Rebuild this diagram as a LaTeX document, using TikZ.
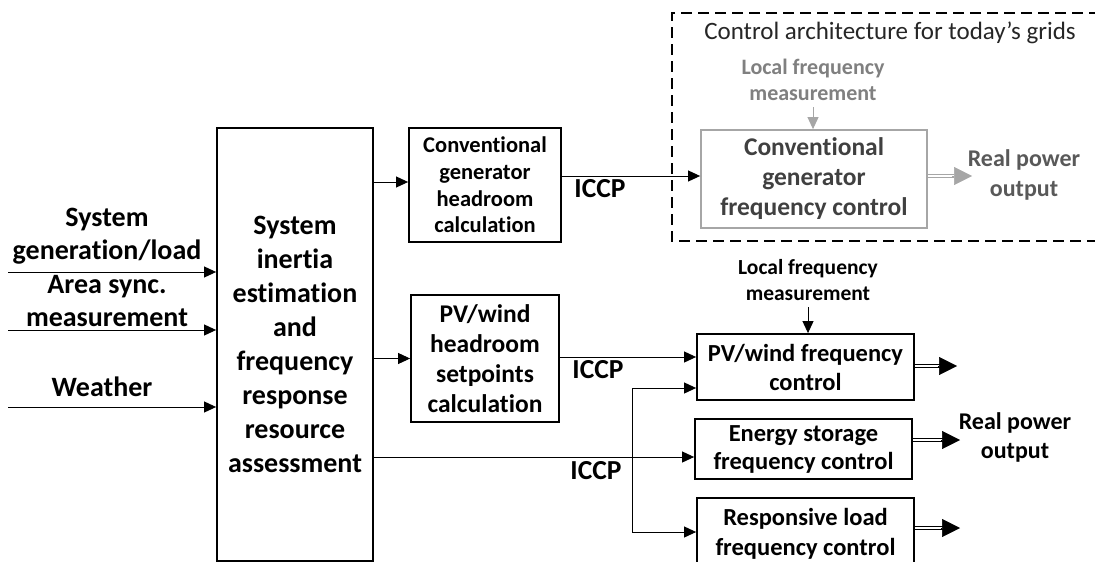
\documentclass[tikz,border=0pt]{standalone}
\usepackage{fontspec}
\setmainfont{Carlito}[Ligatures={NoCommon}]
\usetikzlibrary{arrows.meta,calc}
\definecolor{gbox}{HTML}{A6A6A6}
\definecolor{gtext}{HTML}{404040}
\definecolor{glocal}{HTML}{808080}
\definecolor{gout}{HTML}{595959}
\definecolor{ttl}{HTML}{262626}
\begin{document}
\begin{tikzpicture}[x=1pt,y=-1pt,
  fsz/.style 2 args={font=\bfseries\fontsize{#1}{#2}\selectfont},
  box/.style={draw, line width=1.8pt, align=center, inner sep=0pt},
  lbl/.style={align=center, inner sep=0pt},
  arr/.style={line width=0.9pt, -{Triangle[length=12pt,width=11pt]}},
  ln/.style={line width=0.9pt},
  dbl/.style={double, double distance=1.8pt, line width=0.9pt},
  bigtip/.style={line width=0.5pt, -{Triangle[length=18pt,width=18pt]}},
  dashbox/.style={line width=1.5pt, dash pattern=on 11pt off 6pt}]
\useasboundingbox (0,0) rectangle (1095,562);

% dashed frame
\coordinate (fr1) at (1100,13);
\coordinate (fr2) at (672,13);
\coordinate (fr3) at (672,241);
\coordinate (fr4) at (1100,241);
\draw[dashbox] (fr1) -- (fr2) -- (fr3) -- (fr4);
\node[lbl, font=\fontsize{25}{30}\selectfont, text=ttl] (title) at (890,33) {Control architecture for today’s grids};

% boxes
\node[box, fsz={28}{34}, minimum width=156pt, minimum height=433pt] (big) at (295,344.5)
  {System\\inertia\\estimation\\and\\frequency\\response\\resource\\assessment};
\node[box, fsz={22.5}{26.7}, minimum width=152pt, minimum height=114pt] (cgh) at (485,185)
  {Conventional\\generator\\headroom\\calculation};
\node[box, fsz={25.5}{30}, minimum width=148pt, minimum height=127pt] (pvh) at (485,358.5)
  {PV/wind\\headroom\\setpoints\\calculation};
\node[box, fsz={25.5}{30}, draw=gbox, text=gtext, minimum width=226pt, minimum height=98pt] (cgf) at (814,179)
  {Conventional\\generator\\frequency control};
\node[box, fsz={24.5}{29}, minimum width=217pt, minimum height=66pt] (pvf) at (805.5,367)
  {PV/wind frequency\\control};
\node[box, fsz={24.5}{28}, minimum width=217pt, minimum height=60pt] (esf) at (803.5,449)
  {Energy storage\\frequency control};
\node[box, fsz={24.5}{30}, minimum width=217pt, minimum height=72pt] (rlf) at (805.5,534)
  {Responsive load\\frequency control};

% left inputs
\node[lbl, fsz={28}{33}] (t1) at (107,236) {System\\generation/load};
\node[lbl, fsz={28}{33}] (t2) at (107,301) {Area sync.\\measurement};
\node[lbl, fsz={28}{33}] (t3) at (102,387) {Weather};
\coordinate (i1) at (8,272);
\coordinate (i2) at (8,330);
\coordinate (i3) at (8,407);
\draw[arr] (i1) -- (big.west |- i1);
\draw[arr] (i2) -- (big.west |- i2);
\draw[arr] (i3) -- (big.west |- i3);

% big to headroom boxes
\coordinate (cghin) at ([yshift=3pt]cgh.west);
\draw[arr] (big.east |- cghin) -- (cghin);
\draw[arr] (big.east |- pvh.west) -- (pvh.west);

% ICCP links
\coordinate (cgfin) at ([yshift=3pt]cgf.west);
\draw[arr] (cgh.east |- cgfin) -- (cgfin);
\node[lbl, fsz={27.5}{32}] (iccp1) at (600,189) {ICCP};

\coordinate (pvfin) at ([yshift=10pt]pvf.west);
\draw[arr] (pvh.east |- pvfin) -- (pvfin);
\node[lbl, fsz={27.5}{32}] (iccp2) at (598,370) {ICCP};

\coordinate (esfin) at ([yshift=-8pt]esf.west);
\draw[arr] (big.east |- esfin) -- (esfin);
\node[lbl, fsz={27.5}{32}] (iccp3) at (596,471) {ICCP};

\coordinate (j) at (632,457);
\coordinate (pvfin2) at ([yshift=-21pt]pvf.west);
\coordinate (rlfin) at ([yshift=2pt]rlf.west);
\draw[arr] (j |- pvfin2) -- (pvfin2);
\draw[arr] (j |- pvfin2) -- (j |- rlfin) -- (rlfin);

% local frequency measurements
\node[lbl, fsz={22}{26}, text=glocal] (lf1) at (813,80) {Local frequency\\measurement};
\coordinate (lf1a) at (813,107);
\draw[line width=0.9pt, draw=gbox, -{Triangle[length=12pt,width=11pt,fill=gbox]}] (lf1a) -- (lf1a |- cgf.north);
\node[lbl, fsz={21.5}{26}] (lf2) at (808,280) {Local frequency\\measurement};
\coordinate (lf2a) at (808,307);
\draw[arr] (lf2a) -- (lf2a |- pvf.north);

% outputs
\coordinate (o0) at (972,176);
\draw[dbl, draw=gbox] (cgf.east |- o0) -- ([xshift=-18pt]o0);
\draw[bigtip, draw=gbox, fill=gbox] ([xshift=-20pt]o0) -- (o0);
\node[lbl, fsz={24}{30}, text=gout] (rp1) at (1024,175) {Real power\\output};

\coordinate (o1) at (957,366);
\coordinate (o2) at (960,440);
\coordinate (o3) at (960,528);
\draw[dbl] (pvf.east |- o1) -- ([xshift=-17pt]o1);
\draw[bigtip] ([xshift=-19pt]o1) -- (o1);
\draw[dbl] (esf.east |- o2) -- ([xshift=-17pt]o2);
\draw[bigtip] ([xshift=-19pt]o2) -- (o2);
\draw[dbl] (rlf.east |- o3) -- ([xshift=-17pt]o3);
\draw[bigtip] ([xshift=-19pt]o3) -- (o3);
\node[lbl, fsz={24}{29}] (rp2) at (1015,437) {Real power\\output};
\end{tikzpicture}
\end{document}
